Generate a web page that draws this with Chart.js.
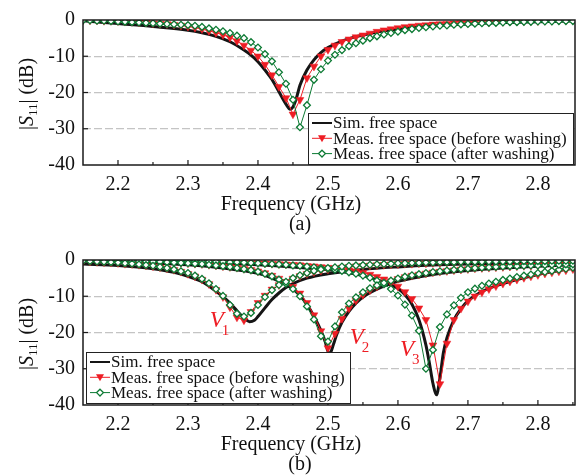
<!DOCTYPE html>
<html>
<head>
<meta charset="utf-8">
<script src="https://cdn.jsdelivr.net/npm/chart.js@4.4.0/dist/chart.umd.min.js"></script>
<style>
  html, body { margin: 0; padding: 0; background: #fff; }
  #wrap { position: relative; width: 582px; height: 475px; }
  canvas { position: absolute; left: 0; }
  #chartA { top: 0; }
  #chartB { top: 240px; }
</style>
</head>
<body>
<div id="wrap">
  <canvas id="chartA" width="582" height="240"></canvas>
  <canvas id="chartB" width="582" height="235"></canvas>
</div>
<script>
// measured frequency grid (GHz)
const freq = [
  2.15, 2.16, 2.17, 2.18, 2.19, 2.20, 2.21, 2.22, 2.23, 2.24,
  2.25, 2.26, 2.27, 2.28, 2.29, 2.30, 2.31, 2.32, 2.33, 2.34,
  2.35, 2.36, 2.37, 2.38, 2.39, 2.40, 2.41, 2.42, 2.43, 2.44,
  2.45, 2.46, 2.47, 2.48, 2.49, 2.50, 2.51, 2.52, 2.53, 2.54,
  2.55, 2.56, 2.57, 2.58, 2.59, 2.60, 2.61, 2.62, 2.63, 2.64,
  2.65, 2.66, 2.67, 2.68, 2.69, 2.70, 2.71, 2.72, 2.73, 2.74,
  2.75, 2.76, 2.77, 2.78, 2.79, 2.80, 2.81, 2.82, 2.83, 2.84,
  2.85
];

// (a) simulated
const simFreqA = [2.15, 2.20, 2.25, 2.30, 2.32, 2.34, 2.36, 2.38, 2.39, 2.40, 2.41, 2.42, 2.43, 2.44, 2.446, 2.45, 2.455, 2.46, 2.47, 2.48, 2.49, 2.50, 2.52, 2.54, 2.56, 2.58, 2.60, 2.65, 2.70, 2.75, 2.80, 2.85];
const simA = [-0.2, -1.0, -1.8, -2.8, -3.5, -4.5, -6.0, -8.3, -9.7, -11.5, -13.8, -16.4, -19.8, -23.2, -24.6, -24.0, -21.5, -18.0, -13.8, -11.0, -9.0, -7.6, -5.8, -4.6, -3.7, -3.0, -2.5, -1.6, -1.1, -0.7, -0.5, -0.3];

// (a) measured
const beforeA = [
  0, -0.1, -0.1, -0.2, -0.2, -0.3, -0.4, -0.5, -0.6, -0.7,
  -0.9, -1.0, -1.1, -1.3, -1.5, -1.8, -2.1, -2.5, -3.0, -3.5,
  -4.1, -4.8, -5.8, -7.0, -8.4, -10.0, -12.3, -15.2, -18.4, -21.5,
  -26.0, -22.0, -16.0, -12.8, -10.0, -8.2, -7.0, -6.0, -5.3, -4.7,
  -4.2, -3.7, -3.2, -2.8, -2.5, -2.2, -1.9, -1.7, -1.5, -1.4,
  -1.2, -1.1, -1.0, -0.9, -0.8, -0.8, -0.7, -0.6, -0.6, -0.5,
  -0.5, -0.4, -0.4, -0.3, -0.3, -0.3, -0.2, -0.2, -0.1, -0.1,
  0
];
const afterA = [
  -0.1, -0.1, -0.2, -0.2, -0.3, -0.4, -0.5, -0.6, -0.7, -0.8,
  -0.9, -1.0, -1.1, -1.2, -1.3, -1.4, -1.6, -1.9, -2.3, -2.7,
  -3.1, -3.6, -4.3, -5.0, -6.1, -7.6, -9.4, -11.4, -14.4, -17.6,
  -22.0, -29.6, -23.5, -16.5, -13.6, -11.2, -9.6, -8.3, -7.2, -6.4,
  -5.7, -5.0, -4.5, -4.0, -3.6, -3.2, -2.8, -2.5, -2.2, -2.0,
  -1.8, -1.6, -1.5, -1.3, -1.2, -1.1, -1.0, -0.9, -0.8, -0.8,
  -0.7, -0.6, -0.6, -0.5, -0.5, -0.4, -0.4, -0.4, -0.3, -0.3,
  -0.3
];

// (b) simulated, one curve per resonance
const simFreqV1 = [2.15, 2.20, 2.25, 2.28, 2.30, 2.32, 2.34, 2.35, 2.36, 2.37, 2.38, 2.388, 2.395, 2.40, 2.41, 2.42, 2.43, 2.44, 2.45, 2.47, 2.50, 2.55, 2.60, 2.65, 2.70, 2.75, 2.80, 2.85];
const simV1 = [-1.1, -1.5, -2.4, -3.4, -4.5, -6.0, -8.6, -10.1, -11.9, -14.0, -16.0, -17.0, -16.6, -15.6, -13.2, -10.9, -9.1, -7.6, -6.5, -5.0, -3.8, -2.6, -1.9, -1.4, -1.1, -0.9, -0.7, -0.6];
const simFreqV2 = [2.15, 2.20, 2.25, 2.30, 2.35, 2.40, 2.42, 2.44, 2.45, 2.46, 2.47, 2.48, 2.49, 2.496, 2.502, 2.508, 2.512, 2.52, 2.53, 2.54, 2.555, 2.58, 2.60, 2.65, 2.70, 2.75, 2.80, 2.85];
const simV2 = [-0.3, -0.5, -0.8, -1.3, -2.2, -3.7, -5.0, -6.8, -8.0, -9.8, -12.3, -15.5, -19.5, -22.5, -26.0, -23.2, -20.8, -17.2, -14.2, -11.9, -9.6, -7.2, -5.9, -4.0, -2.9, -2.2, -1.7, -1.3];
const simFreqV3 = [2.15, 2.25, 2.35, 2.40, 2.45, 2.50, 2.54, 2.57, 2.59, 2.60, 2.61, 2.62, 2.63, 2.64, 2.645, 2.65, 2.655, 2.66, 2.665, 2.67, 2.68, 2.69, 2.70, 2.72, 2.75, 2.78, 2.80, 2.85];
const simV3 = [-0.2, -0.5, -0.9, -1.3, -1.9, -2.7, -3.9, -5.4, -6.9, -7.9, -9.6, -12.2, -16.5, -23.5, -28.5, -34.0, -37.2, -32.5, -25.5, -21.5, -16.5, -13.5, -11.3, -8.7, -6.5, -4.9, -4.0, -2.3];

// (b) measured before washing
const beforeV1 = [
  -0.3, -0.4, -0.5, -0.6, -0.7, -0.8, -1.0, -1.1, -1.3, -1.5,
  -1.7, -2.0, -2.3, -2.7, -3.2, -3.8, -4.5, -5.4, -6.6, -8.2,
  -10.2, -13.0, -15.8, -16.6, -14.3, -11.8, -9.8, -8.1, -6.9, -6.0,
  -5.1, -4.4, -3.8, -3.3, -2.9, -2.6, -2.3, -2.1, -1.9, -1.7,
  -1.6, -1.5, -1.4, -1.3, -1.2, -1.1, -1.0, -1.0, -0.9, -0.9,
  -0.8, -0.8, -0.7, -0.7, -0.7, -0.6, -0.6, -0.6, -0.5, -0.5,
  -0.5, -0.5, -0.4, -0.4, -0.4, -0.4, -0.4, -0.3, -0.3, -0.3,
  -0.3
];
const beforeV2 = [
  -0.1, -0.1, -0.1, -0.2, -0.2, -0.2, -0.3, -0.3, -0.4, -0.4,
  -0.5, -0.6, -0.6, -0.7, -0.8, -0.9, -1.0, -1.1, -1.3, -1.5,
  -1.7, -1.9, -2.1, -2.4, -2.7, -3.1, -3.6, -4.3, -5.1, -6.1,
  -7.4, -9.2, -11.8, -15.2, -19.6, -24.3, -20.3, -16.2, -13.3, -11.2,
  -9.6, -8.3, -7.3, -6.5, -5.8, -5.2, -4.7, -4.3, -4.0, -3.7,
  -3.4, -3.2, -3.0, -2.8, -2.6, -2.5, -2.3, -2.2, -2.1, -2.0,
  -1.9, -1.8, -1.7, -1.6, -1.6, -1.5, -1.4, -1.4, -1.3, -1.3,
  -1.2
];
const beforeV3 = [
  0, 0, 0, 0, -0.1, -0.1, -0.1, -0.1, -0.1, -0.2,
  -0.2, -0.2, -0.2, -0.3, -0.3, -0.3, -0.4, -0.4, -0.4, -0.5,
  -0.5, -0.6, -0.6, -0.7, -0.8, -0.8, -0.9, -1.0, -1.1, -1.2,
  -1.3, -1.4, -1.6, -1.7, -1.9, -2.1, -2.3, -2.5, -2.8, -3.1,
  -3.5, -4.0, -4.6, -5.3, -6.2, -7.3, -8.8, -10.7, -13.3, -16.5,
  -23.5, -34.2, -23.0, -16.5, -13.4, -11.4, -10.0, -8.9, -8.0, -7.2,
  -6.5, -5.9, -5.4, -4.9, -4.5, -4.1, -3.7, -3.4, -3.1, -2.8,
  -2.5
];

// (b) measured after washing
const afterV1 = [
  -0.2, -0.3, -0.4, -0.5, -0.6, -0.7, -0.9, -1.0, -1.2, -1.4,
  -1.6, -1.9, -2.2, -2.6, -3.1, -3.6, -4.3, -5.2, -6.4, -8.0,
  -9.9, -12.4, -14.8, -15.6, -14.6, -12.4, -10.2, -8.3, -6.9, -6.0,
  -5.0, -4.2, -3.6, -3.0, -2.6, -2.2, -2.0, -1.8, -1.6, -1.5,
  -1.4, -1.3, -1.2, -1.1, -1.0, -0.9, -0.9, -0.8, -0.8, -0.7,
  -0.7, -0.6, -0.6, -0.6, -0.5, -0.5, -0.5, -0.5, -0.4, -0.4,
  -0.4, -0.4, -0.3, -0.3, -0.3, -0.3, -0.3, -0.2, -0.2, -0.2,
  -0.2
];
const afterV2 = [
  0, 0, -0.1, -0.1, -0.1, -0.2, -0.2, -0.3, -0.3, -0.4,
  -0.4, -0.5, -0.6, -0.7, -0.8, -0.9, -1.0, -1.1, -1.3, -1.5,
  -1.7, -1.9, -2.2, -2.5, -2.8, -3.2, -3.8, -4.5, -5.4, -6.5,
  -8.0, -10.0, -12.8, -16.4, -21.0, -22.5, -18.3, -14.4, -12.0, -10.3,
  -8.9, -7.8, -7.0, -6.3, -5.7, -5.1, -4.6, -4.2, -3.9, -3.6,
  -3.3, -3.1, -2.9, -2.7, -2.5, -2.4, -2.2, -2.1, -2.0, -1.9,
  -1.8, -1.7, -1.7, -1.6, -1.5, -1.5, -1.4, -1.3, -1.3, -1.2,
  -1.2
];
const afterV3 = [
  0, 0, 0, 0, 0, -0.1, -0.1, -0.1, -0.1, -0.1,
  -0.2, -0.2, -0.2, -0.2, -0.3, -0.3, -0.3, -0.4, -0.4, -0.5,
  -0.5, -0.6, -0.6, -0.7, -0.8, -0.9, -1.0, -1.1, -1.2, -1.3,
  -1.5, -1.6, -1.8, -2.0, -2.2, -2.4, -2.7, -3.0, -3.4, -3.8,
  -4.3, -4.9, -5.7, -6.7, -8.0, -9.8, -12.3, -15.3, -19.5, -30.0,
  -24.8, -18.5, -15.0, -12.5, -10.4, -8.9, -7.9, -7.1, -6.5, -6.0,
  -5.5, -5.1, -4.7, -4.3, -4.0, -3.6, -3.3, -3.0, -2.7, -2.4,
  -2.1
];

const seriesNames = ["Sim. free space", "Meas. free space (before washing)", "Meas. free space (after washing)"];
const resonanceLabels = ["1", "2", "3"];

const RED = "#ee1d24";
const GREEN = "#0c7a33";
const BLACK = "#151515";
const SERIF = "'Liberation Serif', 'Times New Roman', serif";

function pts(xs, ys) {
  return xs.map((x, i) => ({ x: x, y: ys[i] }));
}

function simSet(xs, ys) {
  return {
    data: pts(xs, ys), borderColor: BLACK, borderWidth: 3,
    pointRadius: 0, cubicInterpolationMode: "monotone", order: 3
  };
}
function beforeSet(ys) {
  return {
    data: pts(freq, ys), borderColor: RED, borderWidth: 1,
    pointStyle: "triangle", rotation: 180, pointRadius: 4.5,
    pointBackgroundColor: RED, pointBorderColor: RED, pointBorderWidth: 0.5, order: 2
  };
}
function afterSet(ys) {
  return {
    data: pts(freq, ys), borderColor: GREEN, borderWidth: 1,
    pointStyle: "rectRot", pointRadius: 3.4,
    pointBackgroundColor: "#fff", pointBorderColor: GREEN, pointBorderWidth: 1.3, order: 1
  };
}

// frame, inward ticks, texts
const decor = {
  id: "decor",
  afterDatasetsDraw(chart, args, opts) {
    const ctx = chart.ctx;
    const a = chart.chartArea;
    const xs = chart.scales.x, ys = chart.scales.y;
    ctx.save();
    ctx.strokeStyle = "#1a1a1a";
    ctx.lineWidth = 1.2;
    xs.ticks.forEach(t => {
      const px = xs.getPixelForValue(t.value);
      if (px < a.left + 2 || px > a.right - 2) return;
      const major = Math.abs(Math.round(t.value * 100) % 10) === 0;
      ctx.beginPath();
      ctx.moveTo(px, a.bottom);
      ctx.lineTo(px, a.bottom - (major ? 5 : 3));
      ctx.stroke();
    });
    ys.ticks.forEach(t => {
      const py = ys.getPixelForValue(t.value);
      if (py < a.top + 2 || py > a.bottom - 2) return;
      const major = t.value % 10 === 0;
      ctx.beginPath();
      ctx.moveTo(a.left, py);
      ctx.lineTo(a.left + (major ? 5 : 3), py);
      ctx.stroke();
    });
    ctx.lineWidth = 1.5;
    ctx.strokeRect(a.left, a.top, a.right - a.left, a.bottom - a.top);
    ctx.restore();
  },
  afterDraw(chart, args, opts) {
    const ctx = chart.ctx;
    ctx.save();
    ctx.fillStyle = "#111";
    ctx.textBaseline = "alphabetic";
    ctx.textAlign = "center";
    ctx.font = "20px " + SERIF;
    ctx.fillText("Frequency (GHz)", 291, 210);
    ctx.fillText(opts.panel, 300, 230);

    // y title |S11| (dB), rotated
    ctx.translate(33, 94);
    ctx.rotate(-Math.PI / 2);
    const parts = [
      { text: "|", font: "20px " + SERIF, dy: 0 },
      { text: "S", font: "italic 20px " + SERIF, dy: 0 },
      { text: "11", font: "13px " + SERIF, dy: 4 },
      { text: "|", font: "20px " + SERIF, dy: 0 },
      { text: " (dB)", font: "20px " + SERIF, dy: 0 }
    ];
    drawRich(ctx, parts, 0, 0);
    ctx.restore();

    // legend
    const L = opts.legend;
    ctx.save();
    ctx.fillStyle = "#fff";
    ctx.fillRect(L.x, L.y, L.w, L.h);
    ctx.strokeStyle = "#222";
    ctx.lineWidth = 1;
    ctx.strokeRect(L.x + 0.5, L.y + 0.5, L.w, L.h);
    seriesNames.forEach((name, i) => {
      const cy = L.y + 10 + i * 15.3;
      const x0 = L.x + 4, x1 = L.x + 24, xm = (x0 + x1) / 2;
      ctx.beginPath();
      ctx.moveTo(x0, cy); ctx.lineTo(x1, cy);
      if (i === 0) { ctx.strokeStyle = BLACK; ctx.lineWidth = 2; }
      if (i === 1) { ctx.strokeStyle = RED; ctx.lineWidth = 1; }
      if (i === 2) { ctx.strokeStyle = GREEN; ctx.lineWidth = 1; }
      ctx.stroke();
      if (i === 1) {
        ctx.beginPath();
        ctx.moveTo(xm - 4, cy - 3); ctx.lineTo(xm + 4, cy - 3); ctx.lineTo(xm, cy + 4);
        ctx.closePath(); ctx.fillStyle = RED; ctx.fill();
      }
      if (i === 2) {
        ctx.beginPath();
        ctx.moveTo(xm, cy - 3.4); ctx.lineTo(xm + 3.4, cy); ctx.lineTo(xm, cy + 3.4); ctx.lineTo(xm - 3.4, cy);
        ctx.closePath(); ctx.fillStyle = "#fff"; ctx.fill();
        ctx.lineWidth = 1.3; ctx.stroke();
      }
      ctx.fillStyle = "#111";
      ctx.font = "17px " + SERIF;
      ctx.textAlign = "left";
      ctx.textBaseline = "middle";
      ctx.fillText(name, x1 + 1, cy + 1);
    });
    ctx.restore();

    // resonance labels V1..V3
    if (opts.marks) {
      const xs = chart.scales.x, ys = chart.scales.y;
      ctx.save();
      ctx.fillStyle = RED;
      ctx.textAlign = "left";
      ctx.textBaseline = "alphabetic";
      opts.marks.forEach((m, i) => {
        const px = xs.getPixelForValue(m[0]);
        const py = ys.getPixelForValue(m[1]);
        ctx.font = "italic 23px " + SERIF;
        ctx.fillText("V", px, py);
        ctx.font = "15px " + SERIF;
        ctx.fillText(resonanceLabels[i], px + 12, py + 8);
      });
      ctx.restore();
    }
  }
};

function drawRich(ctx, parts, x, y) {
  let w = 0;
  parts.forEach(p => { ctx.font = p.font; p.w = ctx.measureText(p.text).width; w += p.w; });
  let cx = x - w / 2;
  ctx.textAlign = "left";
  parts.forEach(p => { ctx.font = p.font; ctx.fillText(p.text, cx, y + p.dy); cx += p.w; });
}

function makeOptions(panel, legend, marks) {
  return {
    responsive: false,
    devicePixelRatio: 1,
    animation: false,
    events: [],
    layout: { padding: { left: 0, right: 7, top: 16, bottom: 0 } },
    plugins: {
      legend: { display: false },
      tooltip: { enabled: false },
      decor: { panel: panel, legend: legend, marks: marks }
    },
    scales: {
      x: {
        type: "linear", min: 2.15, max: 2.853,
        afterFit: s => { s.height = s.chart.height - 165; },
        grid: { display: false, drawTicks: false },
        border: { display: false },
        ticks: {
          stepSize: 0.05, includeBounds: false, autoSkip: false, maxRotation: 0,
          padding: 8, color: "#111",
          font: { family: SERIF, size: 20 },
          callback: v => {
            const t = Math.round(v * 100);
            return t % 10 === 0 ? (t / 100).toFixed(1) : "";
          }
        }
      },
      y: {
        min: -40, max: 0,
        afterFit: s => { s.width = 83; },
        grid: {
          drawTicks: false, lineWidth: 1.3, borderDash: [8, 3],
          color: c => {
            const v = c.tick ? c.tick.value : 0;
            return (v % 10 === 0 && v !== 0 && v !== -40) ? "#c4c4c4" : "rgba(0,0,0,0)";
          }
        },
        border: { display: false, dash: [8, 3] },
        ticks: {
          stepSize: 5, padding: 8, color: "#111",
          font: { family: SERIF, size: 20 },
          callback: v => (v % 10 === 0 ? String(v) : "")
        }
      }
    }
  };
}

new Chart(document.getElementById("chartA"), {
  type: "line",
  data: {
    datasets: [simSet(simFreqA, simA), beforeSet(beforeA), afterSet(afterA)]
  },
  options: makeOptions("(a)", { x: 308, y: 113, w: 265, h: 51 }, null),
  plugins: [decor]
});

new Chart(document.getElementById("chartB"), {
  type: "line",
  data: {
    datasets: [
      simSet(simFreqV1, simV1), simSet(simFreqV2, simV2), simSet(simFreqV3, simV3),
      beforeSet(beforeV1), beforeSet(beforeV2), beforeSet(beforeV3),
      afterSet(afterV1), afterSet(afterV2), afterSet(afterV3)
    ]
  },
  options: makeOptions("(b)", { x: 86, y: 112, w: 264, h: 51 },
    [[2.331, -18.5], [2.531, -23.1], [2.603, -26.6]]),
  plugins: [decor]
});
</script>
</body>
</html>
